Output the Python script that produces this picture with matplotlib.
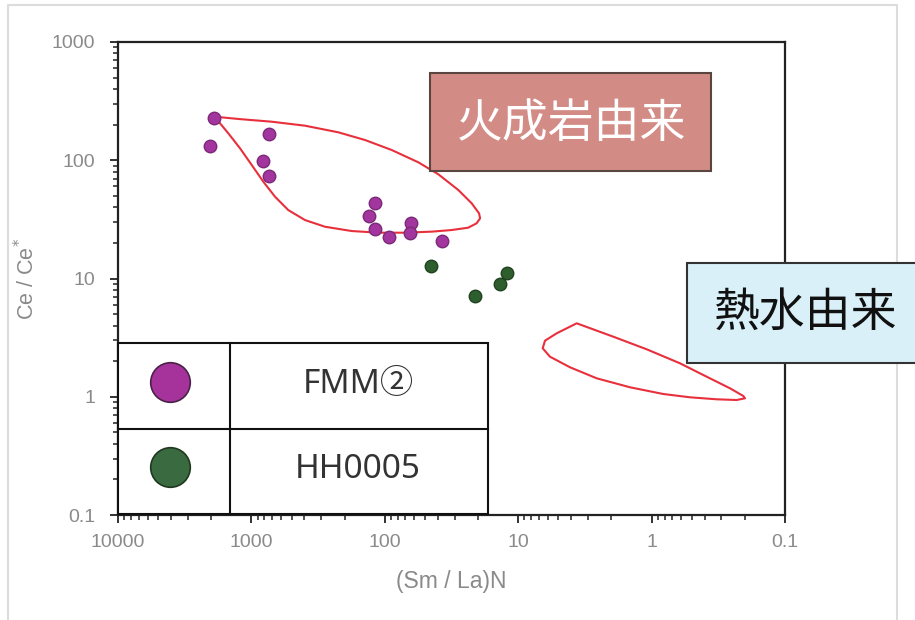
import numpy as np
import matplotlib
matplotlib.use("Agg")
import matplotlib.pyplot as plt
from matplotlib.patches import Polygon, Rectangle
from matplotlib.lines import Line2D
from matplotlib.transforms import Affine2D
from matplotlib.ticker import FixedLocator, FixedFormatter, LogLocator, NullFormatter

plt.rcParams['font.family'] = ['Liberation Sans', 'Noto Sans CJK JP', 'DejaVu Sans']

# ---------------- data ----------------
fmm_x = [1907, 2043, 738, 818, 738, 118, 131, 118, 93, 63.6, 64.7, 37.3]
fmm_y = [228, 132, 167, 98.6, 73.6, 43.5, 33.8, 26.2, 22.4, 29.5, 24.3, 20.8]

hh_x = [45.1, 21.1, 13.7, 12.1]
hh_y = [12.8, 7.11, 8.98, 11.1]

igneous_x = [1875, 1253, 704.3, 396.5, 223.2, 140.7, 88.8, 56.1, 39.7, 28.1, 22.3, 19.67,
             19.3, 20.5, 23.7, 31.5, 44.5, 70.6, 111.9, 177.1, 280.7, 396.5, 529, 665.5,
             814.3, 994.9, 1217, 1490, 1719]
igneous_y = [233.5, 223.4, 211.8, 196.0, 172.3, 148.3, 122.1, 96.1, 76.1, 56.0, 43.2, 35.6,
             32.3, 29.3, 26.9, 25.7, 24.9, 24.4, 24.4, 25.2, 27.4, 31.2, 37.9, 49.2,
             65.9, 91.2, 126.2, 169.0, 205.4]

hydro_x = [3.643, 1.937, 1.088, 0.6125, 0.3864, 0.2584, 0.2055, 0.1995, 0.2302, 0.3251,
           0.5155, 0.8172, 1.451, 2.579, 4.090, 5.776, 6.551, 6.297, 5.145]
hydro_y = [4.179, 3.220, 2.519, 1.918, 1.477, 1.179, 1.015, 0.9703, 0.9386, 0.9515,
           0.9893, 1.055, 1.202, 1.432, 1.775, 2.181, 2.569, 2.979, 3.441]

x_ticks = [10000, 1000, 100, 10, 1, 0.1]
x_tick_labels = ["10000", "1000", "100", "10", "1", "0.1"]
y_ticks = [0.1, 1, 10, 100, 1000]
y_tick_labels = ["0.1", "1", "10", "100", "1000"]

series_names = ["FMM②", "HH0005"]
region_names = ["火成岩由来", "熱水由来"]

# ---------------- figure ----------------
W, H = 915, 620
fig = plt.figure(figsize=(W / 100, H / 100), dpi=100)
pix = Affine2D().scale(1 / W, -1 / H).translate(0, 1) + fig.transFigure

ax_l, ax_r, ax_t, ax_b = 118, 785, 42, 515
ax = fig.add_axes([ax_l / W, 1 - ax_b / H, (ax_r - ax_l) / W, (ax_b - ax_t) / H])
ax.set_xscale('log')
ax.set_yscale('log')
ax.set_xlim(10000, 0.1)
ax.set_ylim(0.1, 1000)

tick_color = '#8a8a8a'
ax.xaxis.set_major_locator(FixedLocator(x_ticks))
ax.xaxis.set_major_formatter(FixedFormatter(x_tick_labels))
ax.yaxis.set_major_locator(FixedLocator(y_ticks))
ax.yaxis.set_major_formatter(FixedFormatter(y_tick_labels))
for axis in (ax.xaxis, ax.yaxis):
    axis.set_minor_locator(LogLocator(base=10, subs=np.arange(2, 10)))
    axis.set_minor_formatter(NullFormatter())

ax.tick_params(which='major', direction='out', length=5.5, width=1.3, color='#222222',
               labelsize=14, labelcolor=tick_color)
ax.tick_params(which='minor', direction='out', length=3.5, width=1.1, color='#222222')
ax.tick_params(axis='y', which='major', pad=11)
ax.tick_params(axis='x', which='major', pad=8)
for s in ax.spines.values():
    s.set_linewidth(1.6)
    s.set_color('#222222')

# region outlines
for px_, py_ in ((igneous_x, igneous_y), (hydro_x, hydro_y)):
    ax.add_patch(Polygon(np.column_stack([px_, py_]), closed=True, fill=False,
                         edgecolor='#E8303C', linewidth=1.5, joinstyle='round', zorder=2))

# data points
ax.plot(fmm_x, fmm_y, 'o', ms=9, mfc='#A3359F', mec='#7B2A78', mew=1.0, ls='none', zorder=3)
ax.plot(hh_x, hh_y, 'o', ms=9, mfc='#2E5E2E', mec='#1F421F', mew=1.0, ls='none', zorder=3)

ax.set_xlabel("(Sm / La)N", fontsize=16.5, color=tick_color)
ax.set_ylabel("Ce / Ce$^{*}$", fontsize=15.5, color=tick_color)
ax.xaxis.set_label_coords(0.5, -(570 - ax_b) / (ax_b - ax_t))
ax.yaxis.set_label_coords(-(118 - 39) / (ax_r - ax_l), 0.5)

# outer light frame
fig.add_artist(Line2D([8, 8, 897, 897], [640, 5, 5, 640], transform=pix,
                      color='#dcdcdc', lw=1.5, zorder=0))

# legend table
fig.add_artist(Rectangle((118, 343), 370, 171, transform=pix, facecolor='white',
                         edgecolor='#111111', lw=1.5, zorder=4))
fig.add_artist(Line2D([118, 488], [428.5, 428.5], transform=pix, color='#111111', lw=1.5, zorder=5))
fig.add_artist(Line2D([229.5, 229.5], [343, 514], transform=pix, color='#111111', lw=1.5, zorder=5))
fig.add_artist(Line2D([170], [382], transform=pix, marker='o', ms=28.5, mfc='#A6339C',
                      mec='#4A2248', mew=1.2, ls='none', zorder=6))
fig.add_artist(Line2D([170], [467], transform=pix, marker='o', ms=28.5, mfc='#3A6A40',
                      mec='#203820', mew=1.2, ls='none', zorder=6))
legend_family = ['Noto Sans', 'Noto Sans CJK JP', 'DejaVu Sans']
fig.text(358, 384, series_names[0], transform=pix, ha='center', va='center', fontsize=24,
         color='#333333', family=legend_family, zorder=6)
fig.text(358, 470, series_names[1], transform=pix, ha='center', va='center', fontsize=24,
         color='#333333', family=legend_family, zorder=6)

# region label boxes
fig.add_artist(Rectangle((430, 72.5), 281, 98, transform=pix, facecolor='#D38B86',
                         edgecolor='#5a4640', lw=1.5, zorder=4))
fig.text(571, 124, region_names[0], transform=pix, ha='center', va='center', fontsize=33,
         color='white', family=['Noto Sans CJK JP', 'DejaVu Sans'], zorder=6)
fig.add_artist(Rectangle((687, 263), 240, 100, transform=pix, facecolor='#D9F0F9',
                         edgecolor='#333333', lw=1.5, zorder=4))
fig.text(805, 313, region_names[1], transform=pix, ha='center', va='center', fontsize=33,
         color='#111111', family=['Noto Sans CJK JP', 'DejaVu Sans'], zorder=6)

fig.savefig("out.png", dpi=100, facecolor='white')
